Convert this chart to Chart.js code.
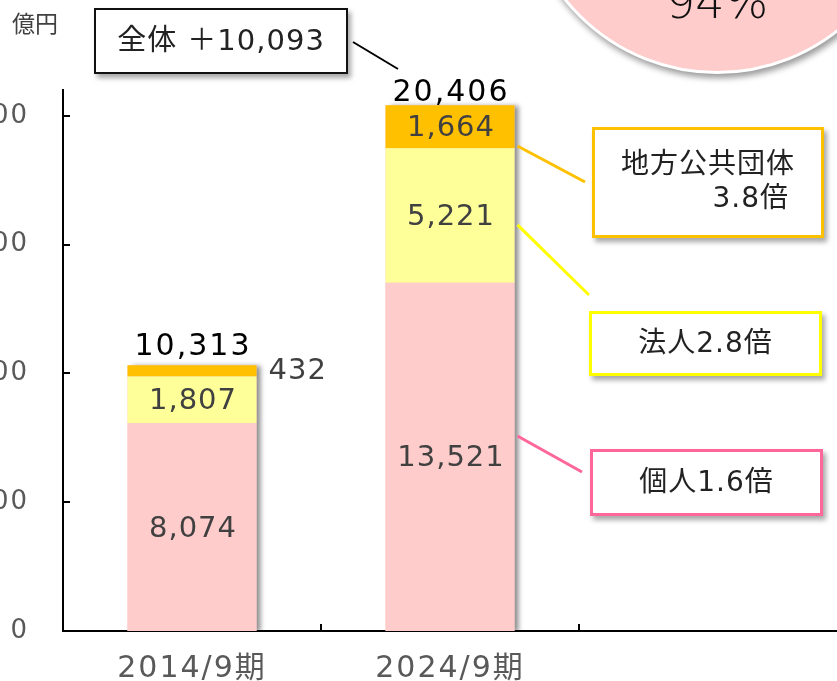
<!DOCTYPE html>
<html>
<head>
<meta charset="utf-8">
<script src="https://cdn.jsdelivr.net/npm/chart.js@4.4.1/dist/chart.umd.min.js"></script>
<style>
  body { margin: 0; background: #fff; }
  #wrap { position: relative; width: 837px; height: 681px; overflow: hidden; font-family: "DejaVu Sans", "Noto Sans CJK JP", sans-serif; }
  #chart-canvas { position: absolute; left: -60px; top: 0; }
  .note { position: absolute; background: #fff; box-sizing: border-box; color: #222; font-size: 28px; letter-spacing: 1px; box-shadow: 3px 4px 5px rgba(0,0,0,0.35); }
  #circle { position: absolute; left: 521px; top: -318px; width: 392px; height: 392px; border-radius: 50%; background: #FFCCCC; border: 3px solid #fff; box-sizing: border-box; box-shadow: 2px 4px 6px rgba(0,0,0,0.4); }
  #circle-text { position: absolute; left: 617px; top: -21px; width: 200px; text-align: center; font-size: 46px; line-height: 46px; color: #111; font-weight: 300; }
  #unit { position: absolute; left: 12px; top: 5px; font-size: 23px; color: #404040; font-family: "Noto Sans CJK JP", sans-serif; }
</style>
</head>
<body>
<div id="wrap">
  <canvas id="chart-canvas" width="897" height="681"></canvas>
  <div id="circle"></div>
  <div id="circle-text"></div>
  <div id="unit"></div>
  <div class="note" id="note-total" style="left:94px;top:8px;width:254px;height:66px;border:2px solid #111;line-height:60px;text-align:center;font-size:29px;"></div>
  <div class="note" id="note-chihou" style="left:592px;top:127px;width:232px;height:111px;border:3px solid #FFC000;padding:17px 32px 0 24px;line-height:34px;text-align:right;"></div>
  <div class="note" id="note-houjin" style="left:589px;top:311px;width:233px;height:65px;border:3px solid #FFFF00;line-height:58px;text-align:center;"></div>
  <div class="note" id="note-kojin" style="left:590px;top:449px;width:233px;height:67px;border:3px solid #FF6699;line-height:60px;text-align:center;"></div>
</div>
<script>
// data (億円)
const categories = ["2014/9期", "2024/9期", ""];
const kojin = [8074, 13521, null];
const houjin = [1807, 5221, null];
const chihou = [432, 1664, null];
const totals = [10313, 20406, null];
const yTicks = [0, 5000, 10000, 15000, 20000];
const yMax = 21000;
const unitLabel = "億円";
const totalChange = "全体 ＋10,093";
const ratioKojin = "個人1.6倍";
const ratioHoujin = "法人2.8倍";
const ratioChihou = ["地方公共団体", "3.8倍"];
const circleLabel = "94%";

const COLORS = ["#FFCCCC", "#FFFF99", "#FFC000"];
const LINE_COLORS = ["#FF6699", "#FFFF00", "#FFC000"];
const SHIFT = 60; // canvas is shifted left so the y labels get clipped
const FONT = "'DejaVu Sans', 'Noto Sans CJK JP', sans-serif";

document.getElementById("unit").textContent = unitLabel;
document.getElementById("circle-text").textContent = circleLabel;
document.getElementById("note-total").textContent = totalChange;
document.getElementById("note-kojin").textContent = ratioKojin;
document.getElementById("note-houjin").textContent = ratioHoujin;
document.getElementById("note-chihou").innerHTML =
  '<div style="text-align:center;margin-right:-8px">' + ratioChihou[0] + "</div><div>" + ratioChihou[1] + "</div>";

const fmt = (v) => v.toLocaleString("en-US");

const barExtras = {
  id: "barExtras",
  beforeDraw(chart) {
    chart.ctx.letterSpacing = "2px";
  },
  beforeDatasetsDraw(chart) {
    // drop shadow behind each stack
    const ctx = chart.ctx;
    const area = chart.chartArea;
    const tops = chart.getDatasetMeta(2).data;
    ctx.save();
    ctx.beginPath();
    ctx.rect(area.left, area.top - 20, area.right - area.left, area.bottom - area.top + 20);
    ctx.clip();
    ctx.shadowColor = "rgba(0,0,0,0.45)";
    ctx.shadowBlur = 5;
    ctx.shadowOffsetX = 4;
    ctx.shadowOffsetY = 1;
    ctx.fillStyle = COLORS[0];
    tops.forEach((bar, i) => {
      if (totals[i] == null) return;
      const base = chart.getDatasetMeta(0).data[i].base;
      ctx.fillRect(bar.x - bar.width / 2, bar.y, bar.width, base - bar.y);
    });
    ctx.restore();
  },
  afterDatasetsDraw(chart) {
    const ctx = chart.ctx;
    ctx.save();
    ctx.letterSpacing = "1px";
    ctx.textBaseline = "middle";
    ctx.font = "29px " + FONT;
    ctx.fillStyle = "#404040";
    chart.data.datasets.forEach((ds, di) => {
      chart.getDatasetMeta(di).data.forEach((bar, i) => {
        const v = ds.data[i];
        if (v == null) return;
        const h = bar.base - bar.y;
        const mid = (bar.y + bar.base) / 2;
        if (h < 30) {
          ctx.textAlign = "left";
          ctx.fillText(fmt(v), bar.x + bar.width / 2 + 12, mid + 1);
        } else {
          ctx.textAlign = "center";
          ctx.fillText(fmt(v), bar.x + 1, mid + 2);
        }
      });
    });
    // totals above the stacks
    const gaps = [10, 4];
    ctx.letterSpacing = "2px";
    ctx.font = "30px " + FONT;
    ctx.fillStyle = "#000";
    ctx.textAlign = "center";
    ctx.textBaseline = "alphabetic";
    chart.getDatasetMeta(2).data.forEach((bar, i) => {
      if (totals[i] == null) return;
      ctx.fillText(fmt(totals[i]), bar.x + 1, bar.y - gaps[i]);
    });
    ctx.restore();
  },
  afterDraw(chart) {
    const ctx = chart.ctx;
    const x = chart.scales.x;
    const y = chart.scales.y;
    const area = chart.chartArea;
    ctx.save();
    ctx.strokeStyle = "#000";
    ctx.lineWidth = 2;
    // inward tick marks
    ctx.beginPath();
    y.ticks.forEach((t) => {
      const py = Math.round(y.getPixelForValue(t.value));
      ctx.moveTo(area.left, py);
      ctx.lineTo(area.left + 7, py);
    });
    for (let i = 0; i < categories.length - 1; i++) {
      const px = Math.round((x.getPixelForTick(i) + x.getPixelForTick(i + 1)) / 2);
      ctx.moveTo(px, area.bottom);
      ctx.lineTo(px, area.bottom - 7);
    }
    ctx.stroke();

    // connector from the total-change box
    ctx.beginPath();
    ctx.moveTo(353 + SHIFT, 42);
    ctx.lineTo(398 + SHIFT, 69);
    ctx.stroke();

    // connectors from the latest bar to the ratio boxes
    const last = 1;
    const anchors = [0.44, 0.57, 0.95];
    const ends = [[582, 472], [589, 295], [585, 182]];
    ctx.lineWidth = 3;
    [0, 1, 2].forEach((di) => {
      const bar = chart.getDatasetMeta(di).data[last];
      const sx = bar.x + bar.width / 2 + 3;
      const sy = bar.y + (bar.base - bar.y) * anchors[di];
      ctx.strokeStyle = LINE_COLORS[di];
      ctx.beginPath();
      ctx.moveTo(sx, sy);
      ctx.lineTo(ends[di][0] + SHIFT, ends[di][1]);
      ctx.stroke();
    });
    ctx.restore();
  },
};

const ctx = document.getElementById("chart-canvas").getContext("2d");
new Chart(ctx, {
  type: "bar",
  data: {
    labels: categories,
    datasets: [
      { label: "個人", data: kojin, backgroundColor: COLORS[0] },
      { label: "法人", data: houjin, backgroundColor: COLORS[1] },
      { label: "地方公共団体", data: chihou, backgroundColor: COLORS[2] },
    ],
  },
  options: {
    responsive: false,
    animation: false,
    layout: { padding: { top: 90, right: 0, bottom: 0, left: 0 } },
    datasets: { bar: { barPercentage: 0.5, categoryPercentage: 1.0, borderWidth: 0 } },
    plugins: { legend: { display: false }, tooltip: { enabled: false } },
    scales: {
      x: {
        stacked: true,
        grid: { display: false },
        border: { display: true, color: "#000", width: 2 },
        ticks: { color: "#595959", font: { size: 30, family: FONT }, padding: 12, maxRotation: 0 },
        afterFit(scale) { scale.height = 50; },
      },
      y: {
        stacked: true,
        min: 0,
        max: yMax,
        grid: { display: false },
        border: { display: true, color: "#000", width: 2 },
        ticks: {
          color: "#595959",
          font: { size: 26, family: FONT },
          padding: 26,
          callback: (v) => fmt(v),
        },
        afterBuildTicks(scale) {
          scale.ticks = yTicks.map((v) => ({ value: v }));
        },
        afterFit(scale) { scale.width = 123; },
      },
    },
  },
  plugins: [barExtras],
});
</script>
</body>
</html>
